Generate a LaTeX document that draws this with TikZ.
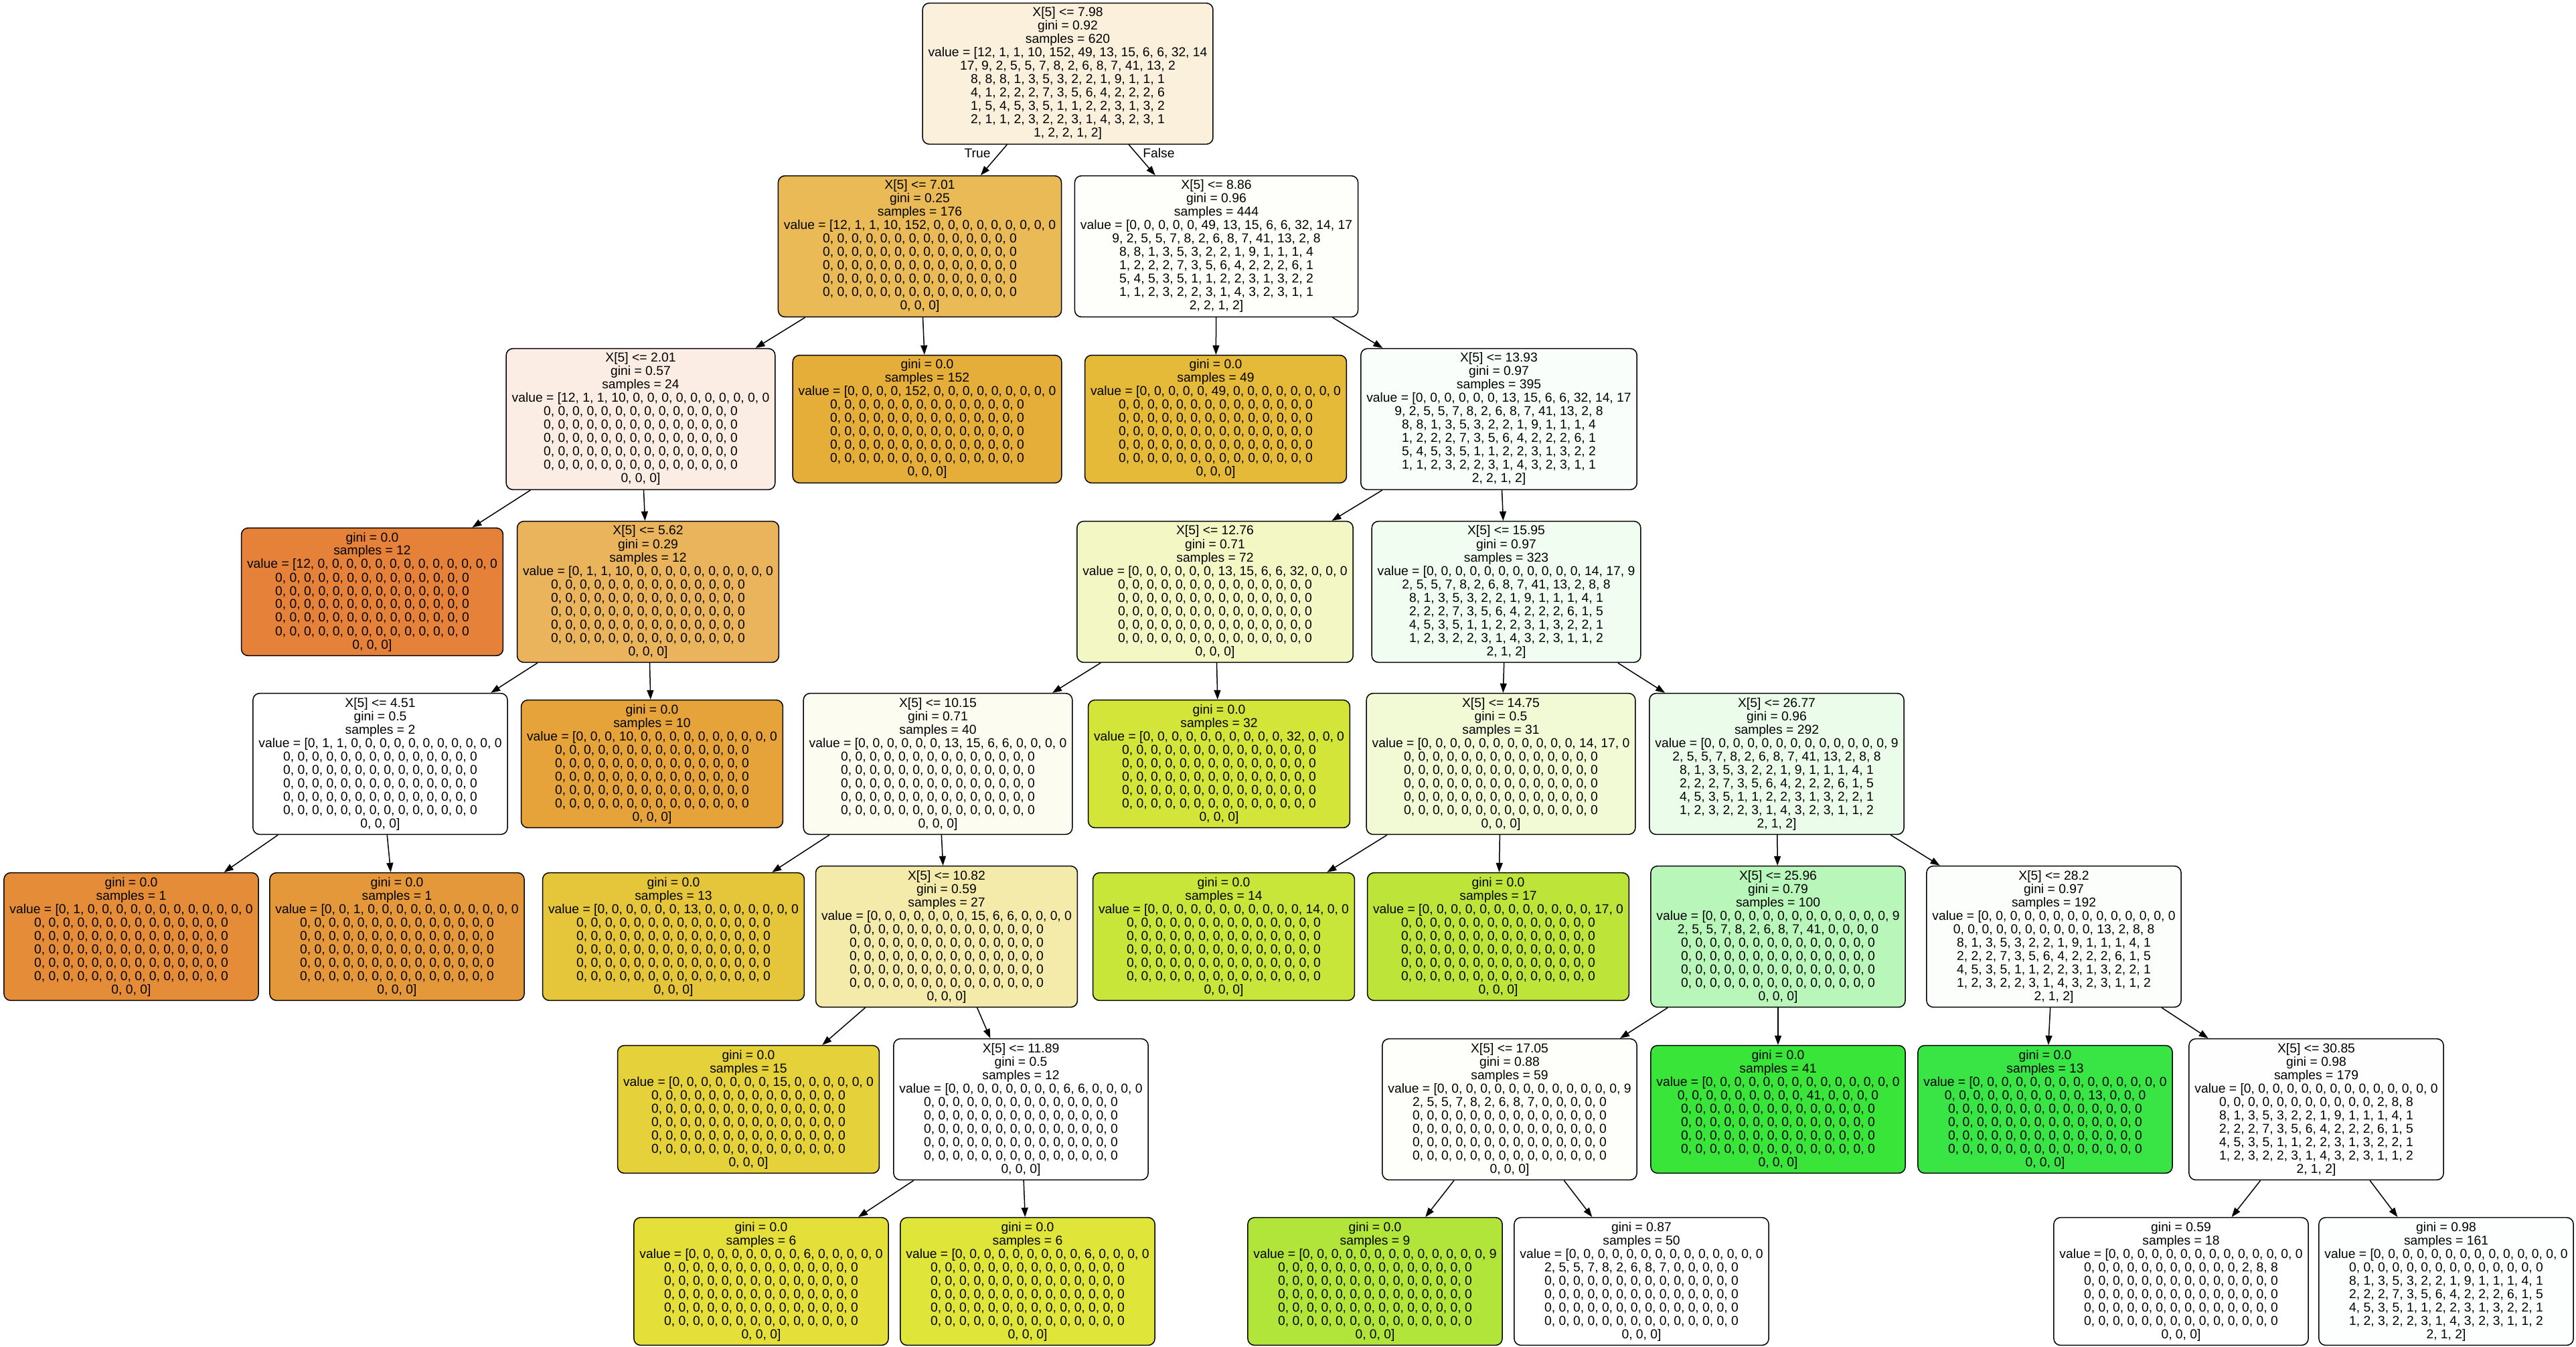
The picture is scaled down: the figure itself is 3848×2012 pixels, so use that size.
\documentclass[tikz,border=0pt]{standalone}
\usepackage{fontspec}
\setmainfont{Liberation Sans}
\usetikzlibrary{arrows.meta}

% fill colours of the tree nodes
\definecolor{c0}{RGB}{250,240,219}
\definecolor{c1}{RGB}{233,186,86}
\definecolor{c2}{RGB}{254,254,251}
\definecolor{c3}{RGB}{251,237,227}
\definecolor{c4}{RGB}{229,174,57}
\definecolor{c5}{RGB}{229,186,57}
\definecolor{c6}{RGB}{250,254,250}
\definecolor{c7}{RGB}{229,129,57}
\definecolor{c8}{RGB}{234,180,93}
\definecolor{c9}{RGB}{242,247,196}
\definecolor{c10}{RGB}{240,253,240}
\definecolor{c11}{RGB}{255,255,255}
\definecolor{c12}{RGB}{229,163,57}
\definecolor{c13}{RGB}{253,252,240}
\definecolor{c14}{RGB}{212,229,57}
\definecolor{c15}{RGB}{241,249,213}
\definecolor{c16}{RGB}{235,252,235}
\definecolor{c17}{RGB}{229,140,57}
\definecolor{c18}{RGB}{229,152,57}
\definecolor{c19}{RGB}{229,197,57}
\definecolor{c20}{RGB}{244,235,170}
\definecolor{c21}{RGB}{200,229,57}
\definecolor{c22}{RGB}{189,229,57}
\definecolor{c23}{RGB}{185,246,185}
\definecolor{c24}{RGB}{251,254,251}
\definecolor{c25}{RGB}{229,209,57}
\definecolor{c26}{RGB}{255,255,255}
\definecolor{c27}{RGB}{254,254,251}
\definecolor{c28}{RGB}{57,229,57}
\definecolor{c29}{RGB}{57,229,68}
\definecolor{c30}{RGB}{254,254,254}
\definecolor{c31}{RGB}{229,223,57}
\definecolor{c32}{RGB}{223,229,57}
\definecolor{c33}{RGB}{177,229,57}
\definecolor{c34}{RGB}{255,255,255}
\definecolor{c35}{RGB}{255,255,255}
\definecolor{c36}{RGB}{252,255,254}

% recurring rows of the value arrays
\newcommand\zrow{0, 0, 0, 0, 0, 0, 0, 0, 0, 0, 0, 0, 0, 0}
\newcommand\zfill{\zrow\\\zrow\\\zrow\\\zrow\\\zrow\\0, 0, 0]}
\newcommand\zfillb{\zrow\\\zrow\\\zrow\\\zrow\\0, 0, 0]}
\newcommand\tailrows{8, 1, 3, 5, 3, 2, 2, 1, 9, 1, 1, 1, 4, 1\\2, 2, 2, 7, 3, 5, 6, 4, 2, 2, 2, 6, 1, 5\\4, 5, 3, 5, 1, 1, 2, 2, 3, 1, 3, 2, 2, 1\\1, 2, 3, 2, 2, 3, 1, 4, 3, 2, 3, 1, 1, 2\\2, 1, 2]}
\newcommand\midrows{9, 2, 5, 5, 7, 8, 2, 6, 8, 7, 41, 13, 2, 8\\8, 8, 1, 3, 5, 3, 2, 2, 1, 9, 1, 1, 1, 4\\1, 2, 2, 2, 7, 3, 5, 6, 4, 2, 2, 2, 6, 1\\5, 4, 5, 3, 5, 1, 1, 2, 2, 3, 1, 3, 2, 2\\1, 1, 2, 3, 2, 2, 3, 1, 4, 3, 2, 3, 1, 1\\2, 2, 1, 2]}

\tikzset{
  treenode/.style={draw=black, line width=1.5pt, rounded corners=10pt, align=center,
    inner xsep=8.5pt, inner ysep=6.4pt, font={\fontsize{19.3}{20}\selectfont}},
  link/.style={draw=black, line width=1.5pt, -{Triangle[length=14pt,width=10pt]}},
  edgelabel/.style={font={\fontsize{19.3}{20}\selectfont}, inner sep=0pt}
}

\begin{document}
\begin{tikzpicture}[x=1pt,y=-1pt]
\fill[white] (0,0) rectangle (3848,2012);
\useasboundingbox (0,0) rectangle (3848,2012);

% level 0
\node[treenode, fill=c0] (n0) at (1595,110) {X[5] <= 7.98\\gini = 0.92\\samples = 620\\value = [12, 1, 1, 10, 152, 49, 13, 15, 6, 6, 32, 14\\17, 9, 2, 5, 5, 7, 8, 2, 6, 8, 7, 41, 13, 2\\8, 8, 8, 1, 3, 5, 3, 2, 2, 1, 9, 1, 1, 1\\4, 1, 2, 2, 2, 7, 3, 5, 6, 4, 2, 2, 2, 6\\1, 5, 4, 5, 3, 5, 1, 1, 2, 2, 3, 1, 3, 2\\2, 1, 1, 2, 3, 2, 2, 3, 1, 4, 3, 2, 3, 1\\1, 2, 2, 1, 2]};

% level 1
\node[treenode, fill=c1] (n1) at (1374,368) {X[5] <= 7.01\\gini = 0.25\\samples = 176\\value = [12, 1, 1, 10, 152, 0, 0, 0, 0, 0, 0, 0, 0, 0\\\zfill};
\node[treenode, fill=c2] (n2) at (1817,368) {X[5] <= 8.86\\gini = 0.96\\samples = 444\\value = [0, 0, 0, 0, 0, 49, 13, 15, 6, 6, 32, 14, 17\\\midrows};

% level 2
\node[treenode, fill=c3] (n3) at (957,626) {X[5] <= 2.01\\gini = 0.57\\samples = 24\\value = [12, 1, 1, 10, 0, 0, 0, 0, 0, 0, 0, 0, 0, 0\\\zfill};
\node[treenode, fill=c4] (n4) at (1385,626) {gini = 0.0\\samples = 152\\value = [0, 0, 0, 0, 152, 0, 0, 0, 0, 0, 0, 0, 0, 0\\\zfill};
\node[treenode, fill=c5] (n5) at (1816,626) {gini = 0.0\\samples = 49\\value = [0, 0, 0, 0, 0, 49, 0, 0, 0, 0, 0, 0, 0, 0\\\zfill};
\node[treenode, fill=c6] (n6) at (2239,626) {X[5] <= 13.93\\gini = 0.97\\samples = 395\\value = [0, 0, 0, 0, 0, 0, 13, 15, 6, 6, 32, 14, 17\\\midrows};

% level 3
\node[treenode, fill=c7] (n7) at (556,884) {gini = 0.0\\samples = 12\\value = [12, 0, 0, 0, 0, 0, 0, 0, 0, 0, 0, 0, 0, 0\\\zfill};
\node[treenode, fill=c8] (n8) at (968,884) {X[5] <= 5.62\\gini = 0.29\\samples = 12\\value = [0, 1, 1, 10, 0, 0, 0, 0, 0, 0, 0, 0, 0, 0\\\zfill};
\node[treenode, fill=c9] (n9) at (1815,884) {X[5] <= 12.76\\gini = 0.71\\samples = 72\\value = [0, 0, 0, 0, 0, 0, 13, 15, 6, 6, 32, 0, 0, 0\\\zfill};
\node[treenode, fill=c10] (n10) at (2250,884) {X[5] <= 15.95\\gini = 0.97\\samples = 323\\value = [0, 0, 0, 0, 0, 0, 0, 0, 0, 0, 0, 14, 17, 9\\2, 5, 5, 7, 8, 2, 6, 8, 7, 41, 13, 2, 8, 8\\\tailrows};

% level 4
\node[treenode, fill=c11] (n11) at (568,1141) {X[5] <= 4.51\\gini = 0.5\\samples = 2\\value = [0, 1, 1, 0, 0, 0, 0, 0, 0, 0, 0, 0, 0, 0\\\zfill};
\node[treenode, fill=c12] (n12) at (974,1141) {gini = 0.0\\samples = 10\\value = [0, 0, 0, 10, 0, 0, 0, 0, 0, 0, 0, 0, 0, 0\\\zfill};
\node[treenode, fill=c13] (n13) at (1401,1141) {X[5] <= 10.15\\gini = 0.71\\samples = 40\\value = [0, 0, 0, 0, 0, 0, 13, 15, 6, 6, 0, 0, 0, 0\\\zfill};
\node[treenode, fill=c14] (n14) at (1821,1141) {gini = 0.0\\samples = 32\\value = [0, 0, 0, 0, 0, 0, 0, 0, 0, 0, 32, 0, 0, 0\\\zfill};
\node[treenode, fill=c15] (n15) at (2242,1141) {X[5] <= 14.75\\gini = 0.5\\samples = 31\\value = [0, 0, 0, 0, 0, 0, 0, 0, 0, 0, 0, 14, 17, 0\\\zfill};
\node[treenode, fill=c16] (n16) at (2654,1141) {X[5] <= 26.77\\gini = 0.96\\samples = 292\\value = [0, 0, 0, 0, 0, 0, 0, 0, 0, 0, 0, 0, 0, 9\\2, 5, 5, 7, 8, 2, 6, 8, 7, 41, 13, 2, 8, 8\\\tailrows};

% level 5
\node[treenode, fill=c17] (n17) at (196,1399) {gini = 0.0\\samples = 1\\value = [0, 1, 0, 0, 0, 0, 0, 0, 0, 0, 0, 0, 0, 0\\\zfill};
\node[treenode, fill=c18] (n18) at (593,1399) {gini = 0.0\\samples = 1\\value = [0, 0, 1, 0, 0, 0, 0, 0, 0, 0, 0, 0, 0, 0\\\zfill};
\node[treenode, fill=c19] (n19) at (1006,1399) {gini = 0.0\\samples = 13\\value = [0, 0, 0, 0, 0, 0, 13, 0, 0, 0, 0, 0, 0, 0\\\zfill};
\node[treenode, fill=c20] (n20) at (1414,1399) {X[5] <= 10.82\\gini = 0.59\\samples = 27\\value = [0, 0, 0, 0, 0, 0, 0, 15, 6, 6, 0, 0, 0, 0\\\zfill};
\node[treenode, fill=c21] (n21) at (1828,1399) {gini = 0.0\\samples = 14\\value = [0, 0, 0, 0, 0, 0, 0, 0, 0, 0, 0, 14, 0, 0\\\zfill};
\node[treenode, fill=c22] (n22) at (2238,1399) {gini = 0.0\\samples = 17\\value = [0, 0, 0, 0, 0, 0, 0, 0, 0, 0, 0, 0, 17, 0\\\zfill};
\node[treenode, fill=c23] (n23) at (2656,1399) {X[5] <= 25.96\\gini = 0.79\\samples = 100\\value = [0, 0, 0, 0, 0, 0, 0, 0, 0, 0, 0, 0, 0, 9\\2, 5, 5, 7, 8, 2, 6, 8, 7, 41, 0, 0, 0, 0\\\zfillb};
\node[treenode, fill=c24] (n24) at (3068,1399) {X[5] <= 28.2\\gini = 0.97\\samples = 192\\value = [0, 0, 0, 0, 0, 0, 0, 0, 0, 0, 0, 0, 0, 0\\0, 0, 0, 0, 0, 0, 0, 0, 0, 0, 13, 2, 8, 8\\\tailrows};

% level 6
\node[treenode, fill=c25] (n25) at (1118,1657) {gini = 0.0\\samples = 15\\value = [0, 0, 0, 0, 0, 0, 0, 15, 0, 0, 0, 0, 0, 0\\\zfill};
\node[treenode, fill=c26] (n26) at (1525,1657) {X[5] <= 11.89\\gini = 0.5\\samples = 12\\value = [0, 0, 0, 0, 0, 0, 0, 0, 6, 6, 0, 0, 0, 0\\\zfill};
\node[treenode, fill=c27] (n27) at (2255,1657) {X[5] <= 17.05\\gini = 0.88\\samples = 59\\value = [0, 0, 0, 0, 0, 0, 0, 0, 0, 0, 0, 0, 0, 9\\2, 5, 5, 7, 8, 2, 6, 8, 7, 0, 0, 0, 0, 0\\\zfillb};
\node[treenode, fill=c28] (n28) at (2656,1657) {gini = 0.0\\samples = 41\\value = [0, 0, 0, 0, 0, 0, 0, 0, 0, 0, 0, 0, 0, 0\\0, 0, 0, 0, 0, 0, 0, 0, 0, 41, 0, 0, 0, 0\\\zfillb};
\node[treenode, fill=c29] (n29) at (3055,1657) {gini = 0.0\\samples = 13\\value = [0, 0, 0, 0, 0, 0, 0, 0, 0, 0, 0, 0, 0, 0\\0, 0, 0, 0, 0, 0, 0, 0, 0, 0, 13, 0, 0, 0\\\zfillb};
\node[treenode, fill=c30] (n30) at (3460,1657) {X[5] <= 30.85\\gini = 0.98\\samples = 179\\value = [0, 0, 0, 0, 0, 0, 0, 0, 0, 0, 0, 0, 0, 0\\0, 0, 0, 0, 0, 0, 0, 0, 0, 0, 0, 2, 8, 8\\\tailrows};

% level 7
\node[treenode, fill=c31] (n31) at (1137,1914) {gini = 0.0\\samples = 6\\value = [0, 0, 0, 0, 0, 0, 0, 0, 6, 0, 0, 0, 0, 0\\\zfill};
\node[treenode, fill=c32] (n32) at (1535,1914) {gini = 0.0\\samples = 6\\value = [0, 0, 0, 0, 0, 0, 0, 0, 0, 6, 0, 0, 0, 0\\\zfill};
\node[treenode, fill=c33] (n33) at (2054,1914) {gini = 0.0\\samples = 9\\value = [0, 0, 0, 0, 0, 0, 0, 0, 0, 0, 0, 0, 0, 9\\\zfill};
\node[treenode, fill=c34] (n34) at (2452,1914) {gini = 0.87\\samples = 50\\value = [0, 0, 0, 0, 0, 0, 0, 0, 0, 0, 0, 0, 0, 0\\2, 5, 5, 7, 8, 2, 6, 8, 7, 0, 0, 0, 0, 0\\\zfillb};
\node[treenode, fill=c35] (n35) at (3258,1914) {gini = 0.59\\samples = 18\\value = [0, 0, 0, 0, 0, 0, 0, 0, 0, 0, 0, 0, 0, 0\\0, 0, 0, 0, 0, 0, 0, 0, 0, 0, 0, 2, 8, 8\\\zfillb};
\node[treenode, fill=c36] (n36) at (3654,1914) {gini = 0.98\\samples = 161\\value = [0, 0, 0, 0, 0, 0, 0, 0, 0, 0, 0, 0, 0, 0\\\zrow\\\tailrows};

% connectors
\draw[link] (n0) -- (n1);
\draw[link] (n0) -- (n2);
\draw[link] (n1) -- (n3);
\draw[link] (n1) -- (n4);
\draw[link] (n2) -- (n5);
\draw[link] (n2) -- (n6);
\draw[link] (n3) -- (n7);
\draw[link] (n3) -- (n8);
\draw[link] (n6) -- (n9);
\draw[link] (n6) -- (n10);
\draw[link] (n8) -- (n11);
\draw[link] (n8) -- (n12);
\draw[link] (n9) -- (n13);
\draw[link] (n9) -- (n14);
\draw[link] (n10) -- (n15);
\draw[link] (n10) -- (n16);
\draw[link] (n11) -- (n17);
\draw[link] (n11) -- (n18);
\draw[link] (n13) -- (n19);
\draw[link] (n13) -- (n20);
\draw[link] (n15) -- (n21);
\draw[link] (n15) -- (n22);
\draw[link] (n16) -- (n23);
\draw[link] (n16) -- (n24);
\draw[link] (n20) -- (n25);
\draw[link] (n20) -- (n26);
\draw[link] (n23) -- (n27);
\draw[link] (n23) -- (n28);
\draw[link] (n24) -- (n29);
\draw[link] (n24) -- (n30);
\draw[link] (n26) -- (n31);
\draw[link] (n26) -- (n32);
\draw[link] (n27) -- (n33);
\draw[link] (n27) -- (n34);
\draw[link] (n30) -- (n35);
\draw[link] (n30) -- (n36);

% branch labels under the root
\node[edgelabel] (ltrue) at (1460,229) {True};
\node[edgelabel] (lfalse) at (1731,229) {False};
\end{tikzpicture}
\end{document}
